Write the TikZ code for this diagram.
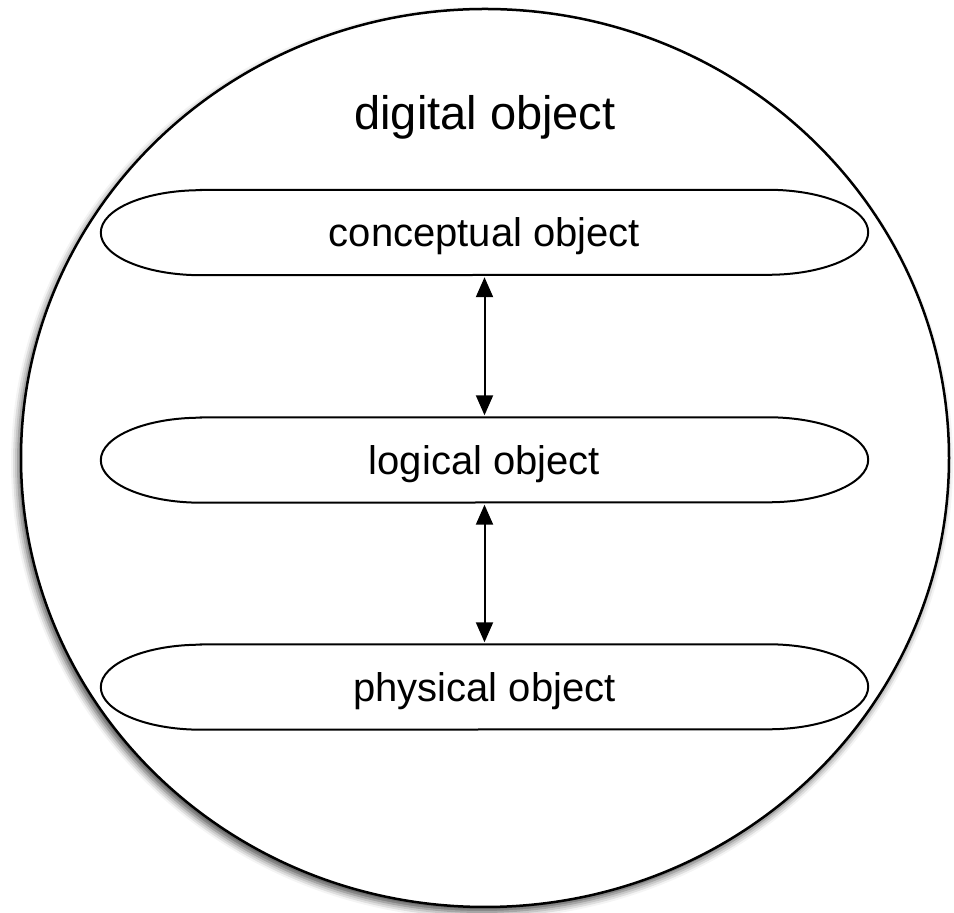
\documentclass[tikz,border=0pt]{standalone}
\usepackage{fontspec}
\setmainfont{Liberation Sans}
\usetikzlibrary{arrows.meta,shadows.blur,shapes.geometric}
\begin{document}
\begin{tikzpicture}[x=1pt,y=1pt,
  outer/.style={draw=black,line width=2.5pt,fill=white,ellipse,minimum width=928pt,minimum height=898pt,inner sep=0pt,
    blur shadow={shadow xshift=-3pt,shadow yshift=-5pt,shadow blur radius=7pt,shadow opacity=70}},
  titletext/.style={font=\fontsize{47}{56}\selectfont,inner sep=0pt},
  pill/.style={draw=none,minimum width=767pt,minimum height=85pt,inner sep=0pt,text depth=0pt,font=\fontsize{40}{48}\selectfont},
  pilledge/.style={draw=black,line width=2pt},
  link/.style={line width=2pt,{Triangle[length=20pt,width=17pt]}-{Triangle[length=20pt,width=17pt]},shorten <=2pt,shorten >=2pt}
]
\useasboundingbox (0,0) rectangle (954,913);
\node[outer] (digital) at (485,455) {};
\node[titletext] (title) at (485,796) {digital object};
\node[pill] (c) at (484.5,680.5) {conceptual object};
\node[pill] (l) at (484.5,453) {logical object};
\node[pill] (p) at (484.5,226) {physical object};
\foreach \n in {c,l,p}{
  \draw[pilledge] ([xshift=100pt]\n.north west) -- ([xshift=-100pt]\n.north east)
    arc[start angle=90,end angle=-90,x radius=100pt,y radius=42.5pt]
    -- ([xshift=100pt]\n.south west)
    arc[start angle=270,end angle=90,x radius=100pt,y radius=42.5pt] -- cycle;
}
\draw[link] (c.south) -- (l.north);
\draw[link] (l.south) -- (p.north);
\end{tikzpicture}
\end{document}
